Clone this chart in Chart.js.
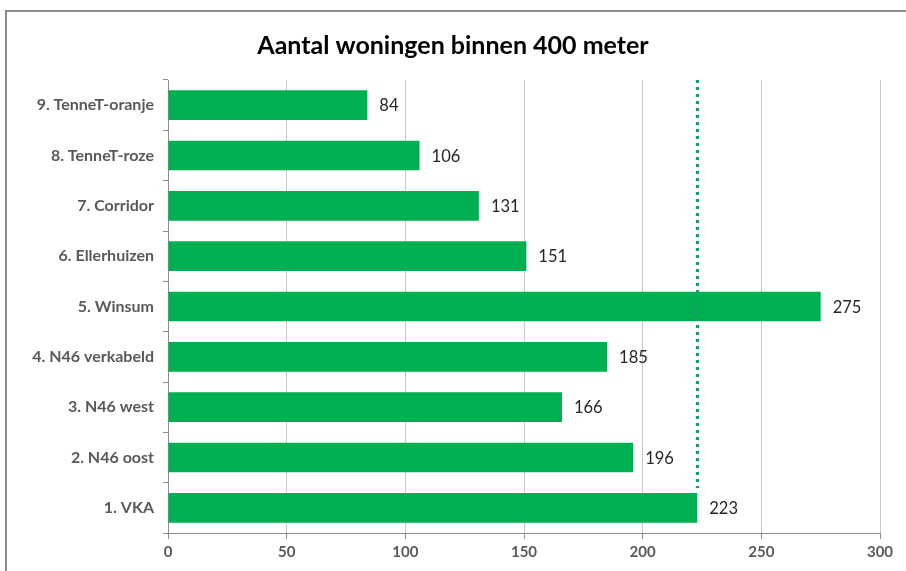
<!DOCTYPE html>
<html>
<head>
<meta charset="utf-8">
<style>
  html, body { margin: 0; padding: 0; background: #ffffff; }
  #wrap { position: relative; width: 906px; height: 571px; }
  #frame { position: absolute; left: 5px; top: 10px; width: 960px; height: 600px;
           border: 2px solid #8c8c8c; box-sizing: border-box; pointer-events: none; }
</style>
<script src="https://cdn.jsdelivr.net/npm/chart.js@4/dist/chart.umd.min.js"></script>
</head>
<body>
<div id="wrap">
  <canvas id="chart" width="906" height="571"></canvas>
  <div id="frame"></div>
</div>
<script>
// Tracés, top to bottom as shown
const categories = [
  '9. TenneT-oranje',
  '8. TenneT-roze',
  '7. Corridor',
  '6. Ellerhuizen',
  '5. Winsum',
  '4. N46 verkabeld',
  '3. N46 west',
  '2. N46 oost',
  '1. VKA'
];
const woningen = [84, 106, 131, 151, 275, 185, 166, 196, 223];
const xTicks = [0, 50, 100, 150, 200, 250, 300];
const chartTitle = 'Aantal woningen binnen 400 meter';
// Reference level: the VKA count, drawn as a dotted vertical line
const referenceLabel = '1. VKA';
const referenceValue = woningen[categories.indexOf(referenceLabel)];

const FONT = 'Lato, "Open Sans", sans-serif';

// Title centred on the full canvas width
const centredTitle = {
  id: 'centredTitle',
  afterDraw(chart) {
    const ctx = chart.ctx;
    ctx.save();
    ctx.font = 'bold 25px ' + FONT;
    ctx.fillStyle = '#000000';
    ctx.textAlign = 'center';
    ctx.textBaseline = 'middle';
    ctx.fillText(chartTitle, chart.width / 2, 46);
    ctx.restore();
  }
};

const valueLabels = {
  id: 'valueLabels',
  afterDatasetsDraw(chart) {
    const ctx = chart.ctx;
    const meta = chart.getDatasetMeta(0);
    ctx.save();
    ctx.font = '16.5px ' + FONT;
    ctx.fillStyle = '#262626';
    ctx.textAlign = 'left';
    ctx.textBaseline = 'middle';
    meta.data.forEach((bar, i) => {
      ctx.fillText(String(woningen[i]), bar.x + 12, bar.y + 1);
    });
    ctx.restore();
  }
};

const referenceLine = {
  id: 'referenceLine',
  afterDatasetsDraw(chart) {
    const ctx = chart.ctx;
    const xs = chart.scales.x;
    const meta = chart.getDatasetMeta(0);
    const refBar = meta.data[categories.indexOf(referenceLabel)];
    const x = Math.round(xs.getPixelForValue(referenceValue)) + 0.5;
    const yEnd = refBar.y - refBar.height / 2 - 5;
    ctx.save();
    ctx.strokeStyle = '#14a06a';
    ctx.lineWidth = 3;
    ctx.setLineDash([3, 4]);
    ctx.beginPath();
    ctx.moveTo(x, chart.chartArea.top);
    ctx.lineTo(x, yEnd);
    ctx.stroke();
    ctx.restore();
  }
};

new Chart(document.getElementById('chart'), {
  type: 'bar',
  data: {
    labels: categories,
    datasets: [{
      data: woningen,
      backgroundColor: '#00b050',
      borderWidth: 0,
      categoryPercentage: 1,
      barPercentage: 0.59
    }]
  },
  options: {
    indexAxis: 'y',
    responsive: false,
    animation: false,
    devicePixelRatio: 1,
    layout: { padding: { left: 0, right: 26, top: 80, bottom: 0 } },
    plugins: {
      legend: { display: false },
      tooltip: { enabled: false },
      title: { display: false }
    },
    scales: {
      x: {
        min: 0,
        max: 300,
        afterBuildTicks(scale) { scale.ticks = xTicks.map(v => ({ value: v })); },
        afterFit(scale) { scale.height = 38; },
        grid: { color: '#c8c8c8', lineWidth: 1, tickLength: 6, tickColor: '#8c8c8c' },
        border: { color: '#8c8c8c', width: 1 },
        ticks: {
          color: '#595959',
          padding: 4,
          font: { family: FONT, size: 15, weight: 'bold' }
        }
      },
      y: {
        afterFit(scale) { scale.width = 168; },
        grid: { drawOnChartArea: false, drawTicks: true, tickLength: 5, tickColor: '#8c8c8c', offset: true },
        border: { color: '#8c8c8c', width: 1 },
        ticks: {
          color: '#595959',
          padding: 9,
          font: { family: FONT, size: 16, weight: 'bold' }
        }
      }
    }
  },
  plugins: [valueLabels, referenceLine, centredTitle]
});
</script>
</body>
</html>
